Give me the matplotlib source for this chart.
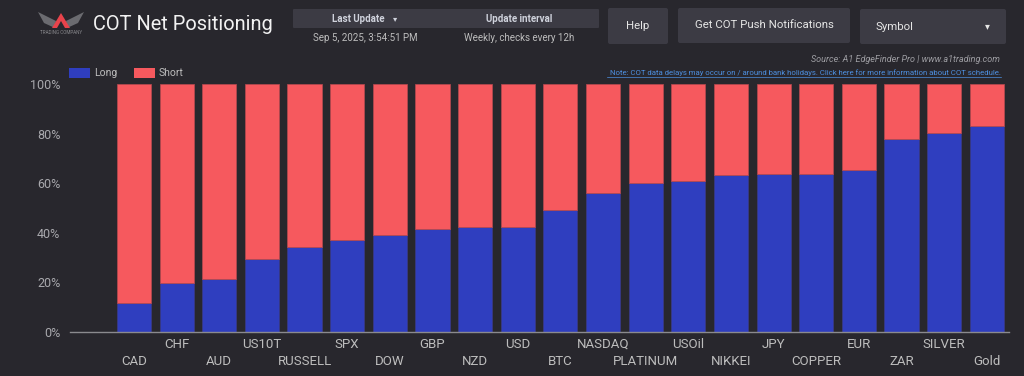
import matplotlib
matplotlib.use("Agg")
from matplotlib import pyplot as plt
from matplotlib.patches import FancyBboxPatch, Polygon, Rectangle
import numpy as np

plt.rcParams['font.family'] = ['Roboto', 'DejaVu Sans']

# data (percent long)
symbols = ['CAD', 'CHF', 'AUD', 'US10T', 'RUSSELL', 'SPX', 'DOW', 'GBP', 'NZD', 'USD', 'BTC',
           'NASDAQ', 'PLATINUM', 'USOil', 'NIKKEI', 'JPY', 'COPPER', 'EUR', 'ZAR', 'SILVER', 'Gold']
long_pct = [11.8, 19.9, 21.2, 29.4, 34.1, 36.9, 39.2, 41.4, 42.5, 42.5, 49.3,
            55.9, 60.2, 61.0, 63.4, 63.8, 63.8, 65.5, 77.9, 80.4, 83.1]
short_pct = [100 - v for v in long_pct]
y_ticks = [0, 20, 40, 60, 80, 100]

BG = '#28272d'
BLUE = '#2f3ebf'
RED = '#f6595e'
TXT = '#bdbdbd'
BOX = '#3c3b44'

W, H = 1024, 376
fig = plt.figure(figsize=(W / 100, H / 100), dpi=100, facecolor=BG)

# overlay in pixel coords for the header widgets
ov = fig.add_axes([0, 0, 1, 1], zorder=0)
ov.set_xlim(0, W)
ov.set_ylim(H, 0)
ov.axis('off')
ov.set_facecolor(BG)

def box(x0, y0, x1, y1, color=BOX, r=2):
    ov.add_patch(FancyBboxPatch((x0, y0), x1 - x0, y1 - y0,
                                boxstyle=f"round,pad=0,rounding_size={r}",
                                fc=color, ec='none'))

# logo
ov.add_patch(Polygon([[38, 12], [56, 21], [55, 28], [44, 23]], closed=True, fc='#6b6b70', ec='none'))
ov.add_patch(Polygon([[84, 12], [66, 21], [67, 28], [78, 23]], closed=True, fc='#6b6b70', ec='none'))
ov.add_patch(Polygon([[61, 13], [52, 28], [57, 28], [61, 21], [65, 28], [70, 28]], closed=True,
                     fc='#e8434b', ec='none'))
ov.text(61, 32, 'TRADING COMPANY', fontsize=3.3, color='#8a8a8e', ha='center', va='center')

ov.text(93, 24, 'COT Net Positioning', fontsize=14.4, color='#f2f2f2', va='center', ha='left')

# update info table
box(293, 9, 599, 28, r=1)
ov.text(358, 18.5, 'Last Update', fontsize=7, color='#cfd2dc', weight='bold', ha='center', va='center')
ov.text(395, 18.5, '\u25be', fontsize=6, color='#cfd2dc', ha='center', va='center',
        family='DejaVu Sans')
ov.text(519, 18.5, 'Update interval', fontsize=7, color='#cfd2dc', weight='bold', ha='center', va='center')
ov.text(365, 38, 'Sep 5, 2025, 3:54:51 PM', fontsize=7, color='#bdbdbd', ha='center', va='center')
ov.text(519, 38, 'Weekly, checks every 12h', fontsize=7, color='#bdbdbd', ha='center', va='center')

# buttons
box(608, 8, 668, 44)
ov.text(638, 26, 'Help', fontsize=8.2, color='#e6e6e6', ha='center', va='center')
box(678, 8, 850, 43)
ov.text(764, 25, 'Get COT Push Notifications', fontsize=8.2, color='#e6e6e6', ha='center', va='center')
box(860, 9, 1006, 44)
ov.text(875, 26.5, 'Symbol', fontsize=8.2, color='#e6e6e6', ha='left', va='center')
ov.text(987, 26.5, '\u25be', fontsize=7, color='#e6e6e6', ha='center', va='center', family='DejaVu Sans')

ov.text(1000, 59.5, 'Source: A1 EdgeFinder Pro | www.a1trading.com', fontsize=6.5, color='#9e9ea3',
        style='italic', ha='right', va='center')
ov.text(1001, 73, 'Note: COT data delays may occur on / around bank holidays. '
        'Click here for more information about COT schedule.',
        fontsize=5.6, color='#4d8fe0', ha='right', va='center')
ov.plot([607, 1001], [77, 77], color='#4d8fe0', lw=0.5)

# legend
ov.add_patch(Rectangle((69, 68), 21, 10, fc=BLUE, ec='none'))
ov.text(94, 73.5, 'Long', fontsize=7.5, color=TXT, va='center')
ov.add_patch(Rectangle((134, 68), 21, 10, fc=RED, ec='none'))
ov.text(159, 73.5, 'Short', fontsize=7.5, color=TXT, va='center')

# main chart
ax = fig.add_axes([70 / W, 44 / H, 939 / W, 248 / H], zorder=1)
ax.patch.set_alpha(0)
x = np.arange(len(symbols))
ax.bar(x, long_pct, width=0.8, color=BLUE, edgecolor='#3a3a8a', linewidth=0.5)
ax.bar(x, short_pct, bottom=long_pct, width=0.8, color=RED, edgecolor='#b84a50', linewidth=0.5)
ax.set_xlim(-1.5, 20.52)
ax.set_ylim(0, 100)

for s in ['top', 'right', 'left']:
    ax.spines[s].set_visible(False)
ax.spines['bottom'].set_color('#8a8a8e')
ax.spines['bottom'].set_linewidth(1)

ax.set_yticks(y_ticks, labels=[f'{t}%' for t in y_ticks])
ax.tick_params(axis='y', length=0, pad=7, labelsize=9, labelcolor='#a9a9ad')

odd = x[1::2]
even = x[0::2]
ax.set_xticks(odd, labels=[symbols[i] for i in odd])
ax.set_xticks(even, labels=[symbols[i] for i in even], minor=True)
ax.tick_params(axis='x', which='major', length=0, pad=4, labelsize=9.5, labelcolor=TXT)
ax.tick_params(axis='x', which='minor', length=0, pad=16.5, labelsize=9.5, labelcolor=TXT)

fig.savefig('out.png', dpi=100, facecolor=BG)
